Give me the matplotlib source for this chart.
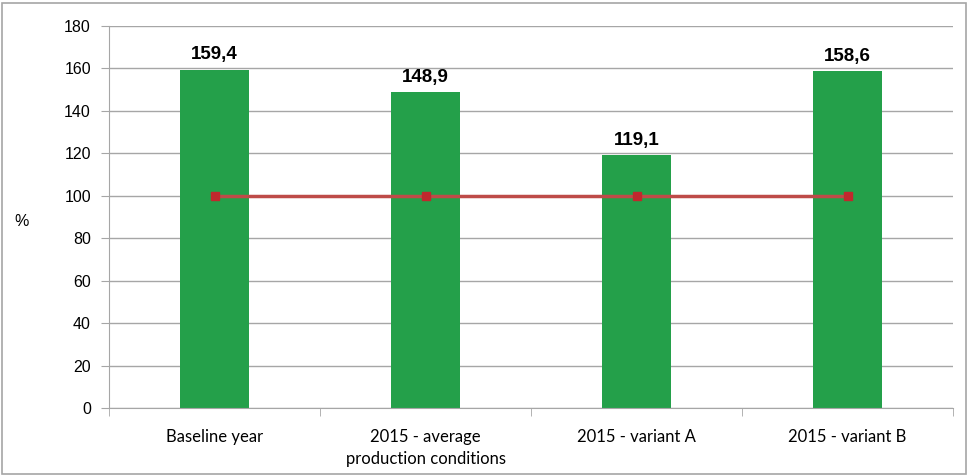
import numpy as np
import matplotlib.pyplot as plt
from matplotlib.patches import Rectangle

categories = ['Baseline year', '2015 - average\nproduction conditions',
              '2015 - variant A', '2015 - variant B']
values = [159.4, 148.9, 119.1, 158.6]
reference = [100, 100, 100, 100]
value_labels = ['159,4', '148,9', '119,1', '158,6']
yticks = [0, 20, 40, 60, 80, 100, 120, 140, 160, 180]


def main():
    fig = plt.figure(figsize=(9.7, 4.76), dpi=100)
    ax = fig.add_axes([0.1124, 0.1429, 0.8701, 0.8025])

    x = np.arange(len(categories))
    ax.bar(x, values, width=0.33, color='#24a04a', zorder=2)
    ax.plot(x, reference, color='#be4b48', lw=2.5, marker='s', ms=6,
            mfc='#c0282d', mec='#c0282d', zorder=3)

    for xi, v, lab in zip(x, values, value_labels):
        ax.text(xi, v + 3, lab, ha='center', va='bottom', fontsize=13.5,
                fontweight='bold', family='Liberation Sans')

    ax.set_xlim(-0.5, len(categories) - 0.5)
    ax.set_ylim(0, 180)
    ax.set_yticks(yticks)
    ax.set_yticklabels([str(t) for t in yticks], family='Liberation Sans', fontsize=11.5)
    ax.yaxis.grid(True, color='#a6a6a6', lw=1, zorder=0)
    ax.set_axisbelow(True)

    # category labels between boundary tick marks
    ax.set_xticks(x)
    ax.set_xticklabels(categories, family='Lato', fontsize=12, linespacing=1.45)
    ax.tick_params(axis='x', length=0, pad=15)
    ax.set_xticks(np.arange(len(categories) + 1) - 0.5, minor=True)
    ax.tick_params(axis='x', which='minor', length=6, color='#a6a6a6')
    ax.tick_params(axis='y', length=6, color='#a6a6a6', pad=7)

    for side in ['top', 'right']:
        ax.spines[side].set_visible(False)
    for side in ['left', 'bottom']:
        ax.spines[side].set_color('#a6a6a6')

    fig.text(22 / 970, 1 - 222 / 476, '%', fontsize=11.5, family='Liberation Sans',
             ha='center', va='center')

    fig.patches.append(Rectangle((0.002, 0.004), 0.994, 0.99, transform=fig.transFigure,
                                 fill=False, edgecolor='#a6a6a6', lw=1.2))

    fig.savefig('out.png', dpi=100)


if __name__ == "__main__":
    main()
